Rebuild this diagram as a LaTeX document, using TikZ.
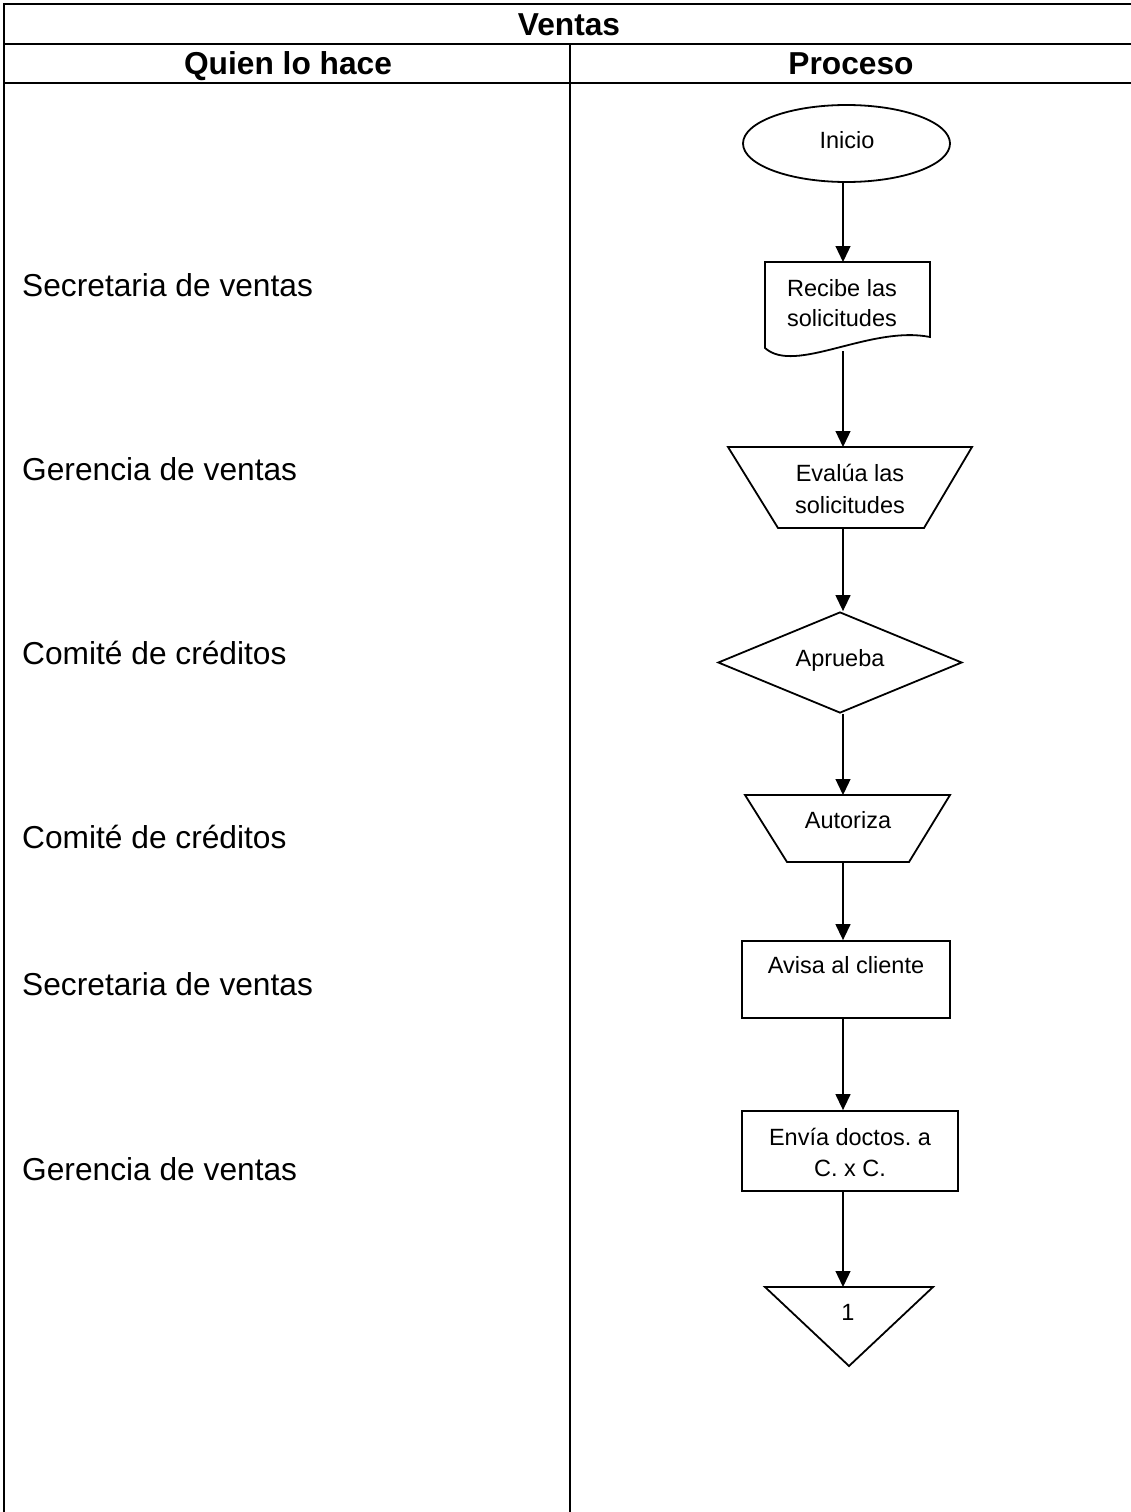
\documentclass[tikz,border=0pt]{standalone}
\usepackage{fontspec}
\setmainfont{Liberation Sans}
\usetikzlibrary{arrows.meta,shapes.geometric}
\frenchspacing

\tikzset{
  grid/.style={line width=2.2pt, line cap=rect},
  outline/.style={draw, line width=1.8pt, line join=miter},
  anchorbox/.style={rectangle, draw=none, inner sep=0pt, outer sep=0pt},
  flow/.style={line width=1.3pt, -{Triangle[length=16pt,width=15pt]}},
  headtext/.style={inner sep=0pt, anchor=base, font=\fontsize{31.7}{36}\selectfont\bfseries},
  roletext/.style={inner sep=0pt, anchor=base west, font=\fontsize{31.7}{36}\selectfont},
  boxtext/.style={inner sep=0pt, anchor=base, align=center,
    font=\fontsize{23.5}{31}\selectfont},
}

\begin{document}
\begin{tikzpicture}[x=1pt, y=-1pt]
\useasboundingbox (0,0) rectangle (1131,1512);

% table frame
\draw[grid] (4,4) -- (1131,4);
\draw[grid] (4,44) -- (1131,44);
\draw[grid] (4,83) -- (1131,83);
\draw[grid] (4,4) -- (4,1512);
\draw[grid] (570,44) -- (570,1512);

\node[headtext] (title) at (569,35.3) {Ventas};
\node[headtext] (colwho) at (288,74.3) {Quien lo hace};
\node[headtext] (colproc) at (851,74.3) {Proceso};

% roles
\node[roletext] (r1) at (22,296.3) {Secretaria de ventas};
\node[roletext] (r2) at (22,480.3) {Gerencia de ventas};
\node[roletext] (r3) at (22,664.3) {Comité de créditos};
\node[roletext] (r4) at (22,848.3) {Comité de créditos};
\node[roletext] (r5) at (22,995.3) {Secretaria de ventas};
\node[roletext] (r6) at (22,1180.3) {Gerencia de ventas};

% flow axis
\coordinate (axis) at (843,0);

% start
\node[ellipse, outline, inner sep=0pt, minimum width=207pt, minimum height=77pt] (ini) at (846.5,143.5) {};
\node[boxtext] at (847,148.4) {Inicio};

% document (base anchor of two-line labels sits on the last line)
\node[anchorbox, minimum width=165pt, minimum height=89pt] (rec) at (847.5,306.5) {};
\draw[outline] (765,262) -- (930,262) -- (930,337)
  .. controls (870,325) and (795,375) .. (765,348) -- cycle;
\node[boxtext, font=\fontsize{23.5}{30}\selectfont] at (842,326.4) {Recibe las\\solicitudes};

% manual operation (evaluation)
\node[anchorbox, minimum width=244pt, minimum height=81pt] (ev) at (850,487.5) {};
\draw[outline] (ev.north west) -- (ev.north east) -- ([xshift=-48pt]ev.south east)
  -- ([xshift=50pt]ev.south west) -- cycle;
\node[boxtext, font=\fontsize{23.5}{32}\selectfont] at (850,513.4) {Evalúa las\\solicitudes};

% decision
\node[diamond, outline, inner sep=0pt, minimum width=244pt, minimum height=101pt] (apr) at (840,662.5) {};
\node[boxtext] at (840,666.4) {Aprueba};

% manual operation (authorization)
\node[anchorbox, minimum width=205pt, minimum height=67pt] (aut) at (847.5,828.5) {};
\draw[outline] (aut.north west) -- (aut.north east) -- ([xshift=-41pt]aut.south east)
  -- ([xshift=42pt]aut.south west) -- cycle;
\node[boxtext] at (848,828.4) {Autoriza};

% process boxes
\node[rectangle, outline, inner sep=0pt, minimum width=208pt, minimum height=77pt] (avi) at (846,979.5) {};
\node[boxtext] at (846,973.4) {Avisa al cliente};

\node[rectangle, outline, inner sep=0pt, minimum width=216pt, minimum height=80pt] (env) at (850,1151) {};
\node[boxtext] at (850,1176.4) {Envía doctos. a\\C. x C.};

% off-page connector
\node[anchorbox, minimum width=168pt, minimum height=79pt] (tri) at (849,1326.5) {};
\draw[outline] (tri.north west) -- (tri.north east) -- (tri.south) -- cycle;
\node[boxtext] at (848,1320.4) {1};

% connectors
\draw[flow] (ini.south -| axis) -- (rec.north -| axis);
\draw[flow] (rec.south -| axis) -- (ev.north -| axis);
\draw[flow] (ev.south -| axis) -- (apr.north -| axis);
\draw[flow] (apr.south -| axis) -- (aut.north -| axis);
\draw[flow] (aut.south -| axis) -- (avi.north -| axis);
\draw[flow] (avi.south -| axis) -- (env.north -| axis);
\draw[flow] (env.south -| axis) -- (tri.north -| axis);
\end{tikzpicture}
\end{document}
